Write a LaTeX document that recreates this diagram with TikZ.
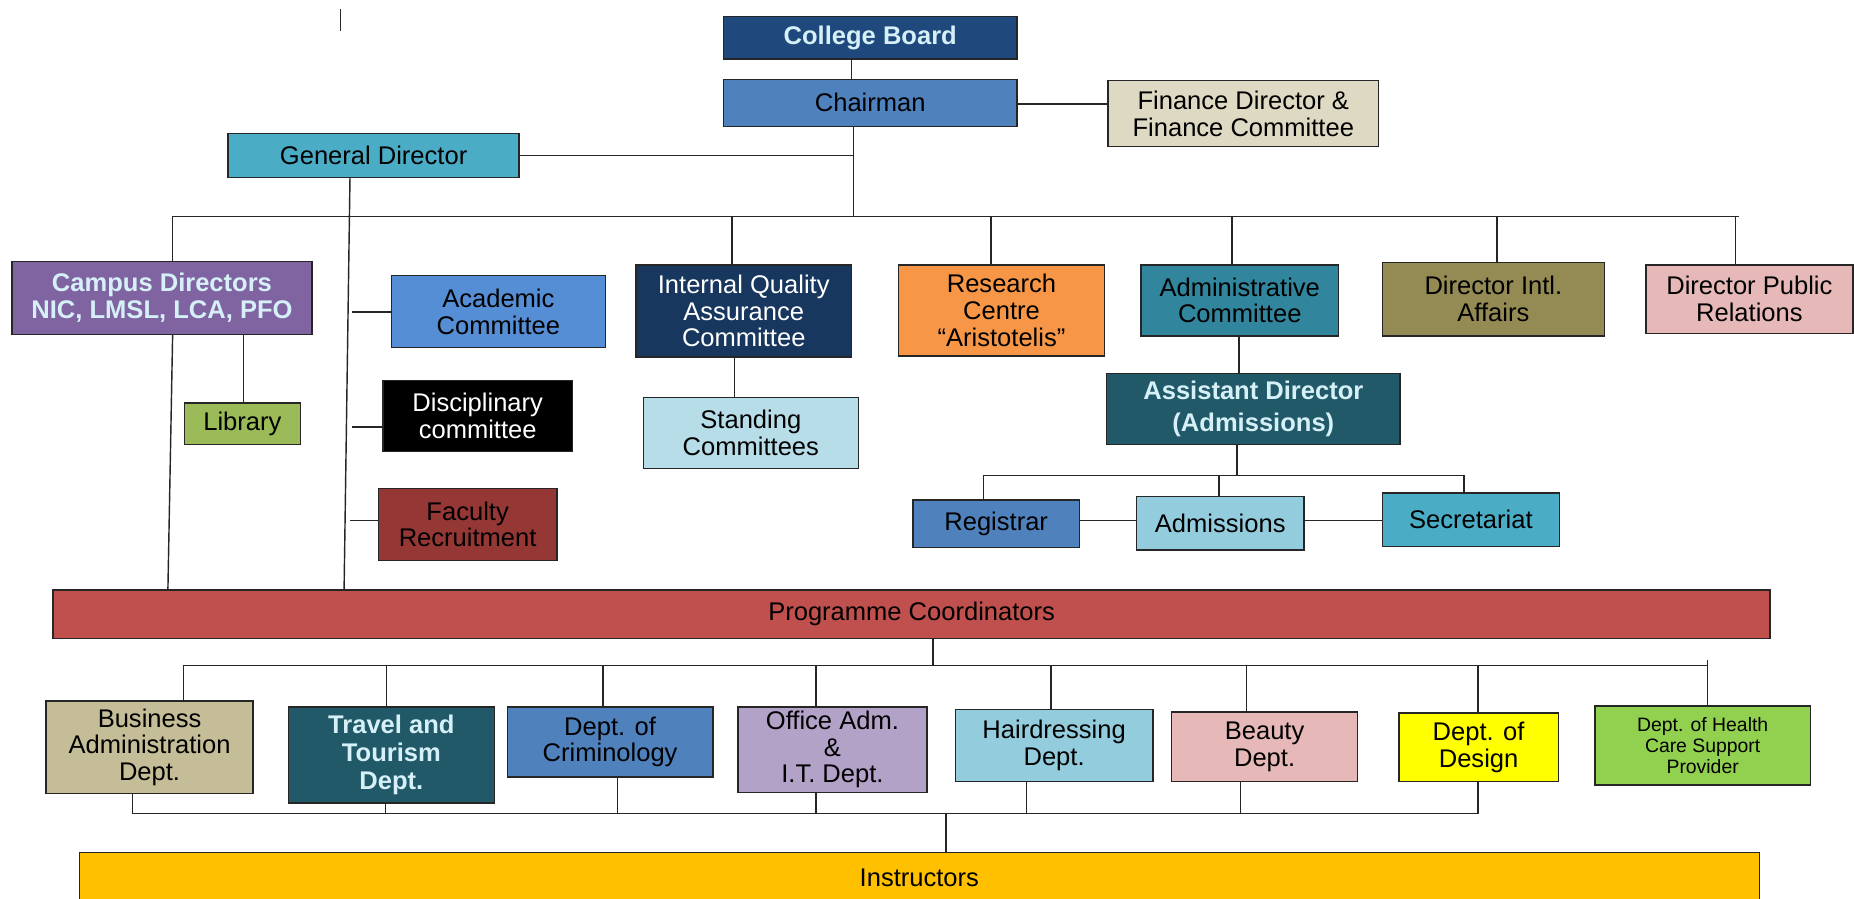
\documentclass[tikz,border=0pt]{standalone}
\usepackage{fontspec}
\setmainfont{Liberation Sans}
\definecolor{cbBlue}{RGB}{31,73,125}
\definecolor{chBlue}{RGB}{79,129,189}
\definecolor{finBeige}{RGB}{221,217,195}
\definecolor{gdAqua}{RGB}{75,172,198}
\definecolor{cdPurple}{RGB}{128,100,162}
\definecolor{libGreen}{RGB}{155,187,89}
\definecolor{acBlue}{RGB}{85,142,213}
\definecolor{frRed}{RGB}{149,55,53}
\definecolor{iqNavy}{RGB}{23,55,94}
\definecolor{scLight}{RGB}{183,222,232}
\definecolor{rcOrange}{RGB}{247,150,70}
\definecolor{adcTeal}{RGB}{49,133,156}
\definecolor{iaOlive}{RGB}{148,138,84}
\definecolor{prPink}{RGB}{230,185,184}
\definecolor{adTeal}{RGB}{33,89,104}
\definecolor{admLight}{RGB}{147,205,221}
\definecolor{pcRed}{RGB}{192,80,77}
\definecolor{baTan}{RGB}{196,189,151}
\definecolor{oaLilac}{RGB}{179,162,199}
\definecolor{deYellow}{RGB}{255,255,0}
\definecolor{hcGreen}{RGB}{146,208,80}
\definecolor{inGold}{RGB}{255,192,0}
\definecolor{glowText}{RGB}{214,240,248}
\tikzset{
  bx/.style={draw=black!85, line width=0.6pt, inner sep=0pt, align=center,
    font=\fontsize{10.8}{11.3}\selectfont},
  glow/.style={text=glowText, font=\fontsize{10.8}{11.3}\selectfont\bfseries},
  conn/.style={draw=black!85, line width=0.6pt}
}
\newcommand{\ob}[7]{\node[bx,#6,minimum width={(#4-#2)*0.5pt},minimum height={(#5-#3)*0.5pt}] (#1) at ({(#2+#4)/2},{(#3+#5)/2}) {#7};}
\begin{document}
\begin{tikzpicture}[x=0.5pt,y=-0.5pt]
\useasboundingbox (0,0) rectangle (1568,760);
% top
\ob{CB}{612}{14}{860}{50}{fill=cbBlue,glow}{College Board}
\ob{CH}{612}{67}{860}{107}{fill=chBlue}{Chairman}
\ob{FD}{937}{68}{1166}{124}{fill=finBeige}{Finance Director \&\\Finance Committee}
\ob{GD}{193}{113}{439}{150}{fill=gdAqua}{General Director}
% second row
\ob{CD}{10}{221}{264}{283}{fill=cdPurple,glow}{Campus Directors\\NIC, LMSL, LCA, PFO}
\ob{LIB}{156}{341}{254}{376}{fill=libGreen}{Library}
\ob{AC}{331}{233}{512}{294}{fill=acBlue}{Academic\\Committee}
\ob{DC}{324}{322}{484}{382}{fill=black,text=white}{Disciplinary\\committee}
\ob{FR}{320}{413}{471}{474}{fill=frRed}{Faculty\\Recruitment}
\ob{IQ}{538}{224}{720}{302}{fill=iqNavy,text=white}{Internal Quality\\Assurance\\Committee}
\ob{SC}{544}{336}{726}{396}{fill=scLight}{Standing\\Committees}
\ob{RC}{760}{224}{934}{301}{fill=rcOrange}{Research\\Centre\\``Aristotelis''}
\ob{ADC}{965}{224}{1132}{284}{fill=adcTeal}{Administrative\\Committee}
\ob{IA}{1169}{222}{1357}{284}{fill=iaOlive}{Director Intl.\\Affairs}
\ob{PR}{1392}{224}{1567}{282}{fill=prPink}{Director Public\\Relations}
\ob{AD}{936}{316}{1184}{376}{fill=adTeal,glow,font=\fontsize{10.8}{13.5}\selectfont\bfseries}{Assistant Director\\(Admissions)}
\ob{REG}{772}{423}{913}{463}{fill=chBlue}{Registrar}
\ob{ADM}{961}{420}{1103}{465}{fill=admLight}{Admissions}
\ob{SEC}{1169}{417}{1319}{462}{fill=gdAqua}{Secretariat}
% programme coordinators
\ob{PC}{45}{499}{1497}{540}{fill=pcRed}{Programme Coordinators}
\ob{BA}{39}{593}{214}{671}{fill=baTan}{Business\\Administration\\Dept.}
\ob{TT}{244}{598}{418}{679}{fill=adTeal,glow,font=\fontsize{10.8}{12}\selectfont\bfseries}{Travel and\\Tourism\\Dept.}
\ob{CR}{429}{598}{603}{657}{fill=chBlue}{Dept. of\\Criminology}
\ob{OA}{624}{598}{784}{670}{fill=oaLilac}{Office Adm.\\\&\\I.T. Dept.}
\ob{HD}{808}{600}{975}{661}{fill=admLight}{Hairdressing\\Dept.}
\ob{BE}{991}{602}{1148}{661}{fill=prPink}{Beauty\\Dept.}
\ob{DE}{1183}{603}{1318}{661}{fill=deYellow}{Dept. of\\Design}
\ob{HC}{1349}{597}{1531}{664}{fill=hcGreen,font=\fontsize{8.2}{9}\selectfont}{Dept. of Health\\Care Support\\Provider}
\ob{IN}{67}{721}{1488}{764}{fill=inGold}{Instructors}
% stray mark
\draw[conn] (288,8) -- (288,26);
% top connectors
\draw[conn] (CB.south -| 720,0) -- (CH.north -| 720,0);
\coordinate (chBot) at (722,107);
\coordinate (busL) at (146,183);
\coordinate (busR) at (1471,183);
\draw[conn] (chBot) -- (chBot |- busL);
\draw[conn] (GD.east) -- (GD.east -| chBot);
\draw[conn] (CH.east |- 0,88) -- (FD.west |- 0,88);
\draw[conn] (busL) -- (busR);
\draw[conn] (busL) -- (CD.north -| busL);
\draw[conn] (619,183) -- (IQ.north -| 619,0);
\draw[conn] (838,183) -- (RC.north -| 838,0);
\draw[conn] (1042,183) -- (ADC.north -| 1042,0);
\draw[conn] (1266,183) -- (IA.north -| 1266,0);
\draw[conn] (1468,183) -- (PR.north -| 1468,0);
% general director trunk
\coordinate (gdB) at (296,150);
\coordinate (gdP) at (291,499);
\draw[conn] (gdB) -- (gdP);
\draw[conn] (298,264) -- (AC.west |- 0,264);
\draw[conn] (298,361) -- (DC.west |- 0,361);
\draw[conn] (296,440) -- (FR.west |- 0,440);
% campus directors
\draw[conn] (146,283) -- (142,499);
\draw[conn] (206,283) -- (LIB.north -| 206,0);
% IQAC
\draw[conn] (621,302) -- (SC.north -| 621,0);
% admin committee
\draw[conn] (1048,284) -- (AD.north -| 1048,0);
\coordinate (adBus) at (1046,402);
\draw[conn] (AD.south -| adBus) -- (adBus);
\draw[conn] (832,402) -- (1238,402);
\draw[conn] (832,402) -- (REG.north -| 832,0);
\draw[conn] (1031,402) -- (ADM.north -| 1031,0);
\draw[conn] (1238,402) -- (SEC.north -| 1238,0);
\draw[conn] (REG.east |- 0,440) -- (ADM.west |- 0,440);
\draw[conn] (ADM.east |- 0,440) -- (SEC.west |- 0,440);
% programme coordinators to departments
\coordinate (pcBus) at (789,563);
\draw[conn] (PC.south -| pcBus) -- (pcBus);
\draw[conn] (155,563) -- (1444,563);
\draw[conn] (155,563) -- (BA.north -| 155,0);
\draw[conn] (327,563) -- (TT.north -| 327,0);
\draw[conn] (510,563) -- (CR.north -| 510,0);
\draw[conn] (690,563) -- (OA.north -| 690,0);
\draw[conn] (889,563) -- (HD.north -| 889,0);
\draw[conn] (1054,563) -- (BE.north -| 1054,0);
\draw[conn] (1250,563) -- (DE.north -| 1250,0);
\draw[conn] (1444,558) -- (HC.north -| 1444,0);
% departments to instructors
\draw[conn] (112,688) -- (1250,688);
\draw[conn] (BA.south -| 112,0) -- (112,688);
\draw[conn] (TT.south -| 326,0) -- (326,688);
\draw[conn] (CR.south -| 522,0) -- (522,688);
\draw[conn] (OA.south -| 690,0) -- (690,688);
\draw[conn] (HD.south -| 868,0) -- (868,688);
\draw[conn] (BE.south -| 1049,0) -- (1049,688);
\draw[conn] (DE.south -| 1250,0) -- (1250,688);
\draw[conn] (800,688) -- (IN.north -| 800,0);
\end{tikzpicture}
\end{document}
